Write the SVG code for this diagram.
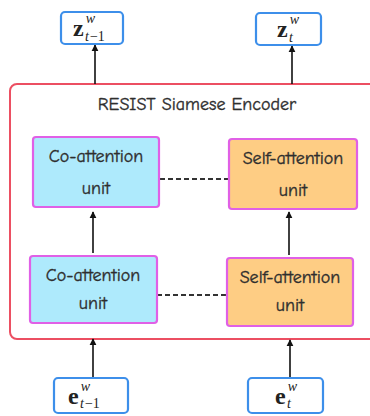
<svg xmlns="http://www.w3.org/2000/svg" width="370" height="416" viewBox="0 0 370 416">
<defs>
<marker id="ah" viewBox="0 0 10 10" refX="9" refY="5" markerWidth="7" markerHeight="8" markerUnits="userSpaceOnUse" orient="auto">
<path d="M0,0 L10,5 L0,10 z" fill="#111"/>
</marker>
<style>
.io{fill:#fff;stroke:#3d8fea;stroke-width:2.2}
.co{fill:#aeeafc;stroke:#e060e6;stroke-width:2.2}
.sa{fill:#fecd84;stroke:#e060e6;stroke-width:2.2}
.enc{fill:#fff;stroke:#ec4f62;stroke-width:2}
.lbl{font-family:"Comic Neue","DejaVu Sans Condensed","DejaVu Sans",sans-serif;font-size:18px;fill:#2e2e2e;stroke:#2e2e2e;stroke-width:0.35;text-anchor:middle}
.m{font-family:"Liberation Serif",serif;fill:#222}
.b{font-weight:bold;font-size:24px}
.sup{font-style:italic;font-size:14px}
.arr{stroke:#111;stroke-width:1.6;fill:none;marker-end:url(#ah)}
.dash{stroke:#333;stroke-width:2;stroke-dasharray:5,3;fill:none}
</style>
</defs>
<g id="encoder">
<rect class="enc" x="10" y="84" width="366" height="255" rx="7"/>
<text class="lbl" x="197" y="110">RESIST Siamese Encoder</text>
</g>
<g id="connectors">
<line class="arr" x1="95" y1="84" x2="95" y2="45"/>
<line class="arr" x1="292" y1="84" x2="292" y2="46"/>
<line class="arr" x1="93" y1="253" x2="93" y2="212"/>
<line class="arr" x1="289" y1="255" x2="289" y2="212"/>
<line class="arr" x1="93" y1="378" x2="93" y2="339"/>
<line class="arr" x1="290" y1="378" x2="290" y2="340"/>
<line class="dash" x1="160" y1="179" x2="229" y2="179"/>
<line class="dash" x1="157" y1="295" x2="227" y2="295"/>
</g>
<g id="z_prev">
<rect class="io" x="61" y="12" width="62" height="32" rx="4"/>
<text class="m" x="73" y="36"><tspan class="b">z</tspan><tspan class="sup" dx="2" dy="-13">w</tspan><tspan class="sup" dx="-10" dy="18">t</tspan><tspan font-size="14" dx="1">−1</tspan></text>
</g>
<g id="z_t">
<rect class="io" x="256" y="13" width="65" height="32" rx="4"/>
<text class="m" x="277" y="37"><tspan class="b">z</tspan><tspan class="sup" dx="2" dy="-13">w</tspan><tspan class="sup" dx="-10" dy="18">t</tspan></text>
</g>
<g id="coatt_top">
<rect class="co" x="33" y="137" width="126" height="70" rx="3"/>
<text class="lbl" x="96" y="162">Co-attention</text>
<text class="lbl" x="96" y="194">unit</text>
</g>
<g id="selfatt_top">
<rect class="sa" x="229" y="139" width="128" height="70" rx="3"/>
<text class="lbl" x="293" y="164">Self-attention</text>
<text class="lbl" x="293" y="196">unit</text>
</g>
<g id="coatt_bottom">
<rect class="co" x="30" y="256" width="127" height="67" rx="3"/>
<text class="lbl" x="93" y="281">Co-attention</text>
<text class="lbl" x="93" y="309">unit</text>
</g>
<g id="selfatt_bottom">
<rect class="sa" x="227" y="258" width="126" height="68" rx="3"/>
<text class="lbl" x="290" y="283">Self-attention</text>
<text class="lbl" x="290" y="311">unit</text>
</g>
<g id="e_prev">
<rect class="io" x="54" y="378" width="74" height="35" rx="4"/>
<text class="m" x="68" y="404"><tspan class="b">e</tspan><tspan class="sup" dx="2" dy="-13">w</tspan><tspan class="sup" dx="-10" dy="17">t</tspan><tspan font-size="14" dx="1">−1</tspan></text>
</g>
<g id="e_t">
<rect class="io" x="248" y="378" width="75" height="35" rx="4"/>
<text class="m" x="275" y="404"><tspan class="b">e</tspan><tspan class="sup" dx="2" dy="-13">w</tspan><tspan class="sup" dx="-10" dy="17">t</tspan></text>
</g>
</svg>
